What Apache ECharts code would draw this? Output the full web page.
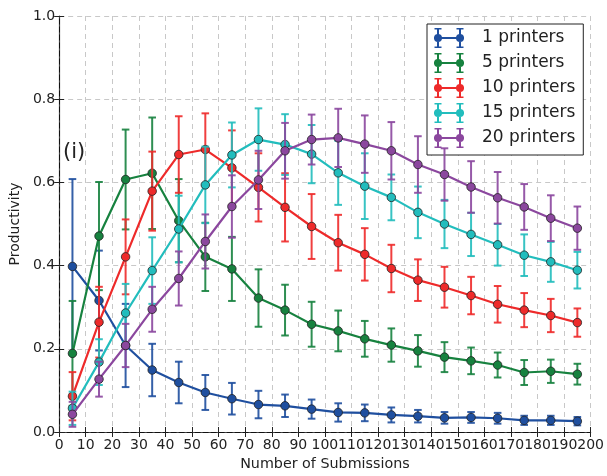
<!DOCTYPE html>
<html>
<head>
<meta charset="utf-8">
<script src="https://cdn.jsdelivr.net/npm/echarts@6/dist/echarts.min.js"></script>
<style>html,body{margin:0;padding:0;background:#fff;}#c{width:607px;height:476px;}</style>
</head>
<body>
<div id="c"></div>
<script>
// ---- data ----
var xValues = [5,15,25,35,45,55,65,75,85,95,105,115,125,135,145,155,165,175,185,195];
var seriesNames = ['1 printers','5 printers','10 printers','15 printers','20 printers'];
var p1Mean = [0.398,0.316,0.208,0.149,0.119,0.095,0.080,0.066,0.063,0.055,0.047,0.046,0.041,0.038,0.034,0.035,0.033,0.028,0.028,0.026];
var p1Err  = [0.21,0.12,0.10,0.063,0.05,0.042,0.038,0.033,0.027,0.023,0.022,0.02,0.018,0.015,0.014,0.013,0.013,0.011,0.011,0.01];
var p5Mean = [0.189,0.471,0.607,0.622,0.508,0.421,0.392,0.322,0.293,0.259,0.243,0.224,0.209,0.195,0.180,0.171,0.161,0.143,0.146,0.139];
var p5Err  = [0.126,0.13,0.12,0.134,0.1,0.082,0.077,0.069,0.061,0.054,0.049,0.043,0.04,0.038,0.036,0.032,0.03,0.03,0.028,0.025];
var p10Mean = [0.086,0.264,0.421,0.579,0.667,0.679,0.635,0.588,0.540,0.494,0.455,0.427,0.393,0.365,0.348,0.328,0.307,0.293,0.280,0.263];
var p10Err  = [0.058,0.085,0.09,0.095,0.092,0.087,0.09,0.082,0.082,0.078,0.067,0.063,0.057,0.05,0.049,0.045,0.044,0.041,0.04,0.034];
var p15Mean = [0.057,0.168,0.286,0.388,0.488,0.594,0.666,0.703,0.691,0.668,0.623,0.591,0.564,0.528,0.500,0.475,0.450,0.425,0.409,0.389];
var p15Err  = [0.04,0.055,0.07,0.08,0.08,0.092,0.078,0.075,0.073,0.07,0.077,0.079,0.055,0.062,0.058,0.052,0.05,0.05,0.048,0.044];
var p20Mean = [0.0425,0.127,0.208,0.295,0.369,0.458,0.542,0.606,0.676,0.703,0.707,0.692,0.676,0.643,0.619,0.589,0.563,0.541,0.514,0.490];
var p20Err  = [0.03,0.042,0.052,0.054,0.065,0.065,0.075,0.07,0.067,0.06,0.07,0.069,0.069,0.068,0.063,0.062,0.062,0.055,0.055,0.052];
var xTicks = {min:0, max:200, interval:10};
var yTicks = {min:0, max:1.0, interval:0.2};

var means = [p1Mean,p5Mean,p10Mean,p15Mean,p20Mean];
var errs = [p1Err,p5Err,p10Err,p15Err,p20Err];
var colors = ['#1f4f9f','#17823f','#ee2a2a','#22bdbd','#8b479e'];
var FONT = 'DejaVu Sans';

var legendIcon = 'path://M0,9h30v2h-30z' +
  'M3,1h2v18h-2z M0.5,0h7v1.6h-7z M0.5,18.4h7v1.6h-7z M0,10a4,4 0 1,1 8,0a4,4 0 1,1 -8,0z' +
  'M25,1h2v18h-2z M22.5,0h7v1.6h-7z M22.5,18.4h7v1.6h-7z M22,10a4,4 0 1,1 8,0a4,4 0 1,1 -8,0z';

var series = [];
for (var i = 0; i < 5; i++) {
  (function(i){
    var errData = xValues.map(function(x, k){ return [x, means[i][k], errs[i][k]]; });
    series.push({
      type: 'custom',
      name: seriesNames[i] + ' err',
      xAxisIndex: 0, yAxisIndex: 0,
      z: 2 + i * 2,
      silent: true,
      data: errData,
      encode: {x: 0, y: 1},
      renderItem: function(params, api){
        var x = api.value(0), y = api.value(1), e = api.value(2);
        var pt = api.coord([x, y + e]);
        var pb = api.coord([x, y - e]);
        var st = {stroke: colors[i], lineWidth: 2, opacity: 0.9};
        return {type: 'group', children: [
          {type:'line', shape:{x1:pt[0], y1:pt[1], x2:pb[0], y2:pb[1]}, style: st},
          {type:'line', shape:{x1:pt[0]-3.8, y1:pt[1], x2:pt[0]+3.8, y2:pt[1]}, style: st},
          {type:'line', shape:{x1:pb[0]-3.8, y1:pb[1], x2:pb[0]+3.8, y2:pb[1]}, style: st}
        ]};
      }
    });
    series.push({
      type: 'line',
      name: seriesNames[i],
      xAxisIndex: 0, yAxisIndex: 0,
      z: 3 + i * 2,
      data: xValues.map(function(x, k){ return [x, means[i][k]]; }),
      symbol: 'circle',
      symbolSize: 8.5,
      lineStyle: {color: colors[i], width: 2.2},
      itemStyle: {color: colors[i], borderColor: '#222', borderWidth: 0.8},
      emphasis: {disabled: true},
      animation: false
    });
  })(i);
}

var chart = echarts.init(document.getElementById('c'), null, {renderer: 'canvas'});
chart.setOption({
  animation: false,
  backgroundColor: '#fff',
  title: {text: '(i)', left: 58, top: 137, textStyle: {fontFamily: FONT, fontSize: 21, fontWeight: 'normal', color: '#222'}},
  grid: {left: 54, right: 15, top: 16, bottom: 44},
  legend: {
    data: seriesNames.map(function(n){ return {name: n, icon: legendIcon}; }),
    orient: 'vertical',
    left: 427, top: 24,
    itemWidth: 30, itemHeight: 20, itemGap: 5,
    padding: [4, 8, 7, 7],
    backgroundColor: '#fff',
    borderColor: '#222', borderWidth: 1,
    itemStyle: {borderWidth: 0},
    formatter: function(n){ return '{t|' + n + '}'; },
    textStyle: {fontFamily: FONT, fontSize: 17, color: '#222',
      rich: {t: {fontFamily: FONT, fontSize: 17, color: '#222', padding: [0,0,0,13]}}},
    selectedMode: false
  },
  xAxis: [{
    type: 'value', position: 'bottom',
    min: xTicks.min, max: xTicks.max, interval: xTicks.interval,
    name: 'Number of Submissions', nameLocation: 'middle', nameGap: 24,
    nameTextStyle: {fontFamily: FONT, fontSize: 14.3, color: '#222'},
    axisLine: {show: true, lineStyle: {color: '#444', width: 1.2}},
    axisTick: {show: true, inside: true, length: 5, lineStyle: {color: '#222'}},
    axisLabel: {fontFamily: FONT, fontSize: 14, color: '#222', margin: 6},
    splitLine: {show: true, lineStyle: {color: '#c8c8c8', type: [5,4], width: 1}}
  }, {
    type: 'value', position: 'top',
    min: xTicks.min, max: xTicks.max, interval: xTicks.interval,
    axisLine: {show: true, lineStyle: {color: '#111', type: [5,3], width: 1}},
    axisTick: {show: true, inside: true, length: 5, lineStyle: {color: '#222'}},
    axisLabel: {show: false},
    splitLine: {show: false}
  }],
  yAxis: [{
    type: 'value', position: 'left',
    min: yTicks.min, max: yTicks.max, interval: yTicks.interval,
    name: 'Productivity', nameLocation: 'middle', nameGap: 36,
    nameTextStyle: {fontFamily: FONT, fontSize: 14, color: '#222'},
    axisLine: {show: true, lineStyle: {color: '#444', width: 1.2}},
    axisTick: {show: true, inside: true, length: 5, lineStyle: {color: '#222'}},
    axisLabel: {fontFamily: FONT, fontSize: 14, color: '#222', margin: 4,
      formatter: function(v){ return v.toFixed(1); }},
    splitLine: {show: true, lineStyle: {color: '#c8c8c8', type: [5,4], width: 1}}
  }, {
    type: 'value', position: 'right',
    min: yTicks.min, max: yTicks.max, interval: yTicks.interval,
    axisLine: {show: true, lineStyle: {color: '#111', type: [5,3], width: 1}},
    axisTick: {show: true, inside: true, length: 5, lineStyle: {color: '#222'}},
    axisLabel: {show: false},
    splitLine: {show: false}
  }],
  series: series
});
</script>
</body>
</html>
